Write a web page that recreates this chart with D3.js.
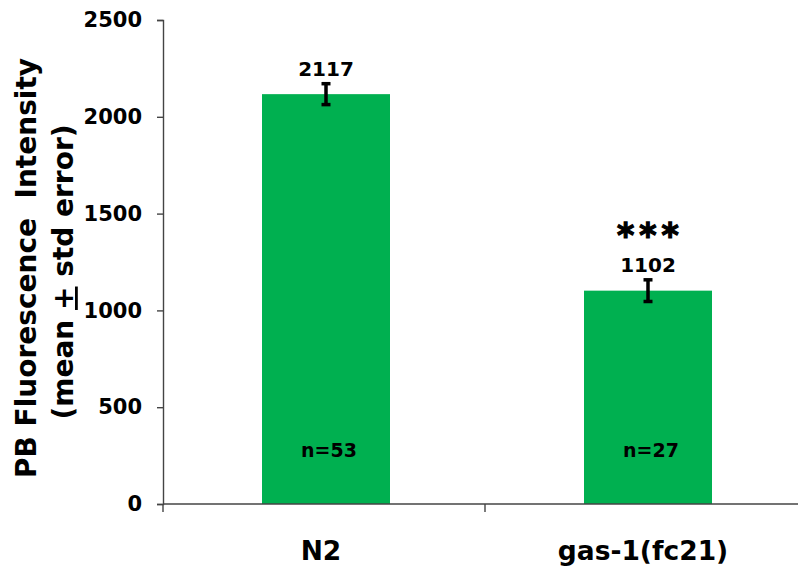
<!DOCTYPE html>
<html><head><meta charset="utf-8">
<script src="https://cdn.jsdelivr.net/npm/d3@7"></script>
<style>body{margin:0;background:#fff}svg{display:block}</style>
</head><body>
<svg id="c" width="798" height="567"></svg>
<script>
const categories = ["N2", "gas-1(fc21)"];
const means = [2117, 1102];
const errors = [54, 56];
const nLabels = ["n=53", "n=27"];
const sigLabels = ["", "***"];
const yTicks = [0, 500, 1000, 1500, 2000, 2500];

(function(){
const svg = d3.select("#c");
const font = "DejaVu Sans, Verdana, sans-serif";
const mLeft = 163, mTop = 20, mBottom = 504, bandW = 322;
const x = d3.scaleBand().domain(categories).range([mLeft, mLeft + bandW * 2]).paddingInner(0).paddingOuter(0);
const y = d3.scaleLinear().domain([0, 2500]).range([mBottom, mTop]);
const barW = 128;
const cxOf = d => x(d) + x.bandwidth() / 2 + 2;

// bars
svg.selectAll("rect.bar").data(categories).enter().append("rect")
  .attr("x", d => cxOf(d) - barW / 2)
  .attr("width", barW)
  .attr("y", (d, i) => y(means[i]))
  .attr("height", (d, i) => mBottom - y(means[i]))
  .attr("fill", "#00B050");

// y axis
const ya = svg.append("g").attr("transform", `translate(${mLeft},0)`)
  .call(d3.axisLeft(y).tickValues(yTicks).tickSize(6).tickPadding(15).tickFormat(d3.format("d")));
ya.select(".domain").attr("stroke", "#444").attr("stroke-width", 1.4);
ya.selectAll(".tick line").attr("stroke", "#444").attr("stroke-width", 1.4);
ya.selectAll("text").attr("font-family", font).attr("font-weight", "bold").attr("font-size", 21).attr("fill", "#000");

// x axis
const xa = svg.append("g").attr("transform", `translate(0,${mBottom})`);
xa.append("line").attr("x1", mLeft).attr("x2", 798).attr("y1", 0).attr("y2", 0).attr("stroke", "#444").attr("stroke-width", 1.6);
xa.selectAll("line.t").data([mLeft, mLeft + bandW]).enter().append("line")
  .attr("x1", d => d).attr("x2", d => d).attr("y1", 0).attr("y2", 8).attr("stroke", "#444").attr("stroke-width", 1.4);
xa.selectAll("text").data(categories).enter().append("text")
  .attr("x", d => x(d) + x.bandwidth() / 2 - 3).attr("y", 56)
  .attr("text-anchor", "middle").attr("font-family", font).attr("font-weight", "bold").attr("font-size", 26.5)
  .text(d => d);

// error bars and labels
const eb = svg.selectAll("g.err").data(categories).enter().append("g");
eb.each(function(d, i) {
  const g = d3.select(this); const cx = cxOf(d);
  const yt = y(means[i] + errors[i]), yb = y(means[i] - errors[i]);
  g.append("line").attr("x1", cx).attr("x2", cx).attr("y1", yt).attr("y2", yb).attr("stroke", "#000").attr("stroke-width", 3.5);
  [yt, yb].forEach(v => g.append("line").attr("x1", cx - 4.5).attr("x2", cx + 4.5).attr("y1", v).attr("y2", v).attr("stroke", "#000").attr("stroke-width", 3.5));
  g.append("text").attr("x", cx).attr("y", yt - 8).attr("text-anchor", "middle")
    .attr("font-family", font).attr("font-weight", "bold").attr("font-size", 20).text(d3.format("d")(means[i]));
  if (sigLabels[i]) g.append("text").attr("x", cx + 2.5).attr("y", yt - 33).attr("text-anchor", "middle")
    .attr("letter-spacing", 5).attr("stroke", "#000").attr("stroke-width", 1.3)
    .attr("font-family", font).attr("font-weight", "bold").attr("font-size", 33).text(sigLabels[i]);
  g.append("text").attr("x", cx + 3).attr("y", 457).attr("text-anchor", "middle")
    .attr("font-family", font).attr("font-weight", "bold").attr("font-size", 19).text(nLabels[i]);
});

// y title
const t = svg.append("text").attr("transform", "translate(0,268) rotate(-90)")
  .style("white-space", "pre")
  .attr("text-anchor", "middle").attr("font-family", font).attr("font-weight", "bold").attr("font-size", 28);
t.append("tspan").attr("x", 0).attr("y", 36).text("PB Fluorescence  Intensity");
const t2 = t.append("tspan").attr("x", -4).attr("y", 73);
t2.append("tspan").text("(mean ");
t2.append("tspan").attr("text-decoration", "underline").text("+");
t2.append("tspan").text(" std error)");
})();
</script>
</body></html>
